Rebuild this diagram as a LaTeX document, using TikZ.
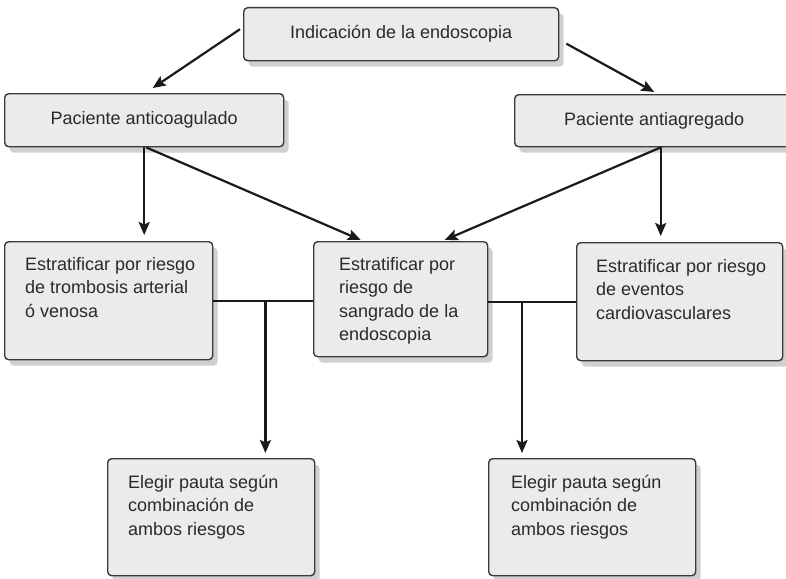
\documentclass[tikz,border=0pt]{standalone}
\usepackage{fontspec}
\setmainfont{Liberation Sans}
\usetikzlibrary{arrows.meta,shadows,calc}
\definecolor{boxfill}{HTML}{EBEBEC}
\definecolor{boxline}{HTML}{3A3A3A}
\definecolor{shadowc}{HTML}{D0D0D0}
\definecolor{txt}{HTML}{2A2A2A}
\definecolor{conncol}{HTML}{1A1A1A}
\begin{document}
\begin{tikzpicture}[x=1pt,y=-1pt,
  box/.style={draw=boxline, line width=1.4pt, fill=boxfill, rounded corners=4pt, rectangle, inner sep=0pt, anchor=north west, text=txt, font=\fontsize{18}{23.5}\selectfont, general shadow={fill=shadowc, shadow xshift=5pt, shadow yshift=-6pt}},
  lbl/.style={anchor=north west, inner sep=0pt, align=left, text=txt, font=\fontsize{18}{23.5}\selectfont},
  conn/.style={draw=conncol, line width=2.2pt},
  arr/.style={conn, -{Stealth[length=13pt,width=11pt,inset=2.5pt]}}
]
\useasboundingbox (0,0) rectangle (786,578);

\node[box, minimum width=315pt, minimum height=53pt] (top) at (243,7) {Indicación de la endoscopia};
\node[box, minimum width=279pt, minimum height=53pt] (anti) at (4,93) {Paciente anticoagulado};
\node[box, minimum width=279pt, minimum height=52pt] (agr) at (514,94) {Paciente antiagregado};
\node[box, minimum width=208pt, minimum height=118pt] (s1) at (4,241) {};
\node[box, minimum width=174pt, minimum height=115pt] (s2) at (313,241) {};
\node[box, minimum width=206pt, minimum height=118pt] (s3) at (576,242) {};
\node[box, minimum width=207pt, minimum height=117pt] (b1) at (107,458) {};
\node[box, minimum width=207pt, minimum height=117pt] (b2) at (488,458) {};

\node[lbl] (t1) at (25,257) {Estratificar por riesgo\\de trombosis arterial\\ó venosa};
\node[lbl] (t2) at (339,257) {Estratificar por\\riesgo de\\sangrado de la\\endoscopia};
\node[lbl] (t3) at (596,259) {Estratificar por riesgo\\de eventos\\cardiovasculares};
\node[lbl] (t4) at (128,475) {Elegir pauta según\\combinación de\\ambos riesgos};
\node[lbl] (t5) at (511,475) {Elegir pauta según\\combinación de\\ambos riesgos};

% top to second row
\draw[arr] ($(top.west)+(-3,-5)$) -- ($(anti.north)+(8.5,-5)$);
\draw[arr] ($(top.east)+(7,9.5)$) -- ($(agr.north)+(0,-2)$);

% anticoagulado
\draw[arr, shorten >=6pt] (anti.south) -- (anti.south |- s1.north);
\draw[arr] ($(anti.south)+(2,0)$) -- ($(s2.north)+(-40,-1)$);

% antiagregado
\coordinate (aS) at ($(agr.south)+(6.5,0)$);
\draw[arr, shorten >=6pt] (aS) -- (aS |- s3.north);
\draw[arr] (aS) -- ($(s2.north)+(44,-1)$);

% combinations
\draw[conn] (s1.east) -- (s1.east -| s2.west);
\coordinate (j1) at ($(s1.east)+(52,0)$);
\draw[arr, shorten >=5pt] (j1) -- (j1 |- b1.north);

\draw[conn] (s3.west -| s2.east) -- (s3.west);
\coordinate (j2) at ($(s3.west)+(-54,0)$);
\draw[arr, shorten >=5pt] (j2) -- (j2 |- b2.north);
\end{tikzpicture}
\end{document}
